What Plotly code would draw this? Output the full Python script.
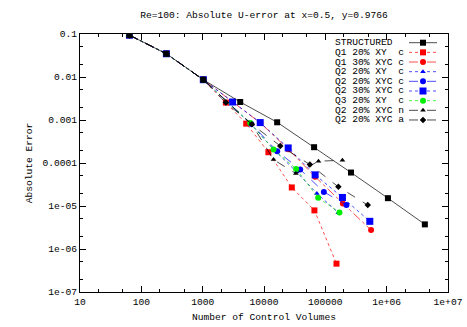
import plotly.graph_objects as go

# ---------------- data ----------------
N_COARSE = [64, 256, 1024]
E_COARSE = [0.094, 0.0347, 0.00865]

N_STRUCT = [64, 256, 1024, 4096, 16384, 65536, 262144, 1048576, 4194304]
E_STRUCT = [0.094, 0.0347, 0.00865, 0.00262, 0.000885, 0.000233, 6.0e-5, 1.52e-5, 3.74e-6]

N_Q1_20_XY = N_COARSE + [2390, 5130, 11800, 28400, 66400, 152000]
E_Q1_20_XY = E_COARSE + [0.00254, 0.000824, 0.000178, 2.7e-5, 7.9e-6, 4.56e-7]

N_Q1_30_XYC = N_COARSE + [8700, 24800, 68000, 193000, 557000]
E_Q1_30_XYC = E_COARSE + [0.00086, 0.00021, 4.8e-5, 1.15e-5, 2.76e-6]

N_Q2_20_XY = N_COARSE + [6000, 15000, 34000, 72800, 163000]
E_Q2_20_XY = E_COARSE + [0.00083, 0.000195, 6.2e-5, 1.96e-5, 6.95e-6]

N_Q2_20_XYC = N_COARSE + [6200, 16400, 38900, 94600, 221000]
E_Q2_20_XYC = E_COARSE + [0.00081, 0.000188, 7.06e-5, 2.13e-5, 1.05e-5]

N_Q2_30_XYC = N_COARSE + [3070, 8670, 24800, 68200, 190000, 531000]
E_Q2_30_XYC = E_COARSE + [0.00262, 0.00087, 0.000224, 5.3e-5, 1.58e-5, 4.4e-6]

N_Q3_20_XY = N_COARSE + [5960, 14300, 33400, 76400, 170000]
E_Q3_20_XY = E_COARSE + [0.000851, 0.000206, 7.3e-5, 1.55e-5, 7.1e-6]

N_Q2_20_XYC_N = N_COARSE + [6350, 14300, 33100, 77300, 190000]
E_Q2_20_XYC_N = E_COARSE + [0.000794, 0.00012, 5.7e-5, 0.00011, 0.000116]

N_Q2_20_XYC_A = N_COARSE + [2390, 6350, 18400, 56000, 163000, 492000]
E_Q2_20_XYC_A = E_COARSE + [0.00254, 0.000794, 0.00025, 9.2e-5, 2.79e-5, 1.05e-5]

X_TICKVALS = [10, 100, 1000, 10000, 100000, 1e6, 1e7]
X_TICKTEXT = ["10", "100", "1000", "10000", "100000", "1e+06", "1e+07"]
Y_TICKVALS = [1e-7, 1e-6, 1e-5, 1e-4, 1e-3, 1e-2, 1e-1]
Y_TICKTEXT = ["1e-07", "1e-06", "1e-05", "0.0001", "0.001", "0.01", "0.1"]

# ---------------- styles ----------------
FONT = "Liberation Mono"
FS = 9.6
W, H = 467, 327
L, R, T, B = 80, 448, 34, 292  # plot area in pixels

series = [
    # label, x, y, color, dash, symbol, size
    ("Q1 20% XY  c", N_Q1_20_XY, E_Q1_20_XY, "#ff0000", "dot", "square", 6),
    ("Q1 30% XYC c", N_Q1_30_XYC, E_Q1_30_XYC, "#ff0000", "dashdot", "circle", 6),
    ("Q2 20% XY  c", N_Q2_20_XY, E_Q2_20_XY, "#0000ff", "dot", "triangle-up", 5),
    ("Q2 20% XYC c", N_Q2_20_XYC, E_Q2_20_XYC, "#0000ff", "dash", "circle", 6),
    ("Q2 30% XYC c", N_Q2_30_XYC, E_Q2_30_XYC, "#0000ff", "dot", "square", 7),
    ("Q3 20% XY  c", N_Q3_20_XY, E_Q3_20_XY, "#00ee00", "dot", "circle", 6),
    ("Q2 20% XYC n", N_Q2_20_XYC_N, E_Q2_20_XYC_N, "#000000", "dash", "triangle-up", 5),
    ("Q2 20% XYC a", N_Q2_20_XYC_A, E_Q2_20_XYC_A, "#000000", "dash", "diamond", 5),
]
struct = ("STRUCTURED", N_STRUCT, E_STRUCT, "#000000", "solid", "square", 6)
all_series = [struct] + series

fig = go.Figure()
for lab, xs, ys, col, dash, sym, sz in series + [struct]:
    fig.add_trace(go.Scatter(
        x=xs, y=ys, mode="lines+markers", name=lab, showlegend=False,
        line=dict(color=col, dash=dash, width=0.7),
        marker=dict(symbol=sym, size=sz, color=col, line=dict(width=0)),
        xaxis="x", yaxis="y"))

# manual legend (text left, sample right) drawn in overlay axes
row0, drow = 42.7, 9.66
tx, sx0, sx1 = 334, 409, 437


def px2fx(px):
    return (px - L) / (R - L)


def py2fy(py):
    return 1 - (py - T) / (B - T)


annotations = []
for i, (lab, xs, ys, col, dash, sym, sz) in enumerate(all_series):
    yy = py2fy(row0 + i * drow)
    annotations.append(dict(x=px2fx(tx), y=yy, xref="paper", yref="paper",
                            text=lab.replace(" ", "&nbsp;"), showarrow=False,
                            xanchor="left", yanchor="middle", height=9, borderpad=0,
                            font=dict(family=FONT, size=FS, color="black")))
    fig.add_trace(go.Scatter(
        x=[px2fx(sx0), px2fx(sx1)], y=[yy, yy], mode="lines",
        line=dict(color=col, dash=dash, width=0.7), showlegend=False,
        hoverinfo="skip", xaxis="x2", yaxis="y2"))
    fig.add_trace(go.Scatter(
        x=[px2fx((sx0 + sx1) / 2)], y=[yy], mode="markers",
        marker=dict(symbol=sym, size=sz, color=col), showlegend=False,
        hoverinfo="skip", xaxis="x2", yaxis="y2"))

axis_common = dict(type="log", showline=True, linecolor="black", linewidth=1,
                   mirror="allticks", ticks="inside", ticklen=6, tickcolor="black",
                   showgrid=False, zeroline=False, automargin=False,
                   tickfont=dict(family=FONT, size=FS, color="black"),
                   minor=dict(ticks="inside", ticklen=3, tickcolor="black",
                              dtick="D2", showgrid=False))

fig.update_layout(
    width=W, height=H,
    margin=dict(l=L, r=W - R, t=T, b=H - B, autoexpand=False),
    paper_bgcolor="white", plot_bgcolor="white",
    showlegend=False,
    font=dict(family=FONT, size=FS, color="black"),
    title=dict(text="Re=100: Absolute U-error at x=0.5, y=0.9766",
               x=264 / W, xanchor="center", xref="container",
               y=1 - 15 / H, yref="container", yanchor="middle",
               font=dict(family=FONT, size=FS, color="black")),
    xaxis=dict(**axis_common, range=[1, 7], tickvals=X_TICKVALS, ticktext=X_TICKTEXT,
               title=dict(text="Number of Control Volumes", standoff=6,
                          font=dict(family=FONT, size=FS, color="black"))),
    yaxis=dict(**axis_common, range=[-7, -1], tickvals=Y_TICKVALS, ticktext=Y_TICKTEXT,
               title=dict(text="Absolute Error", standoff=8,
                          font=dict(family=FONT, size=FS, color="black"))),
    xaxis2=dict(overlaying="x", range=[0, 1], visible=False),
    yaxis2=dict(overlaying="y", range=[0, 1], visible=False),
    annotations=annotations,
)

fig.write_html("out.html", config={"displayModeBar": False, "staticPlot": True},
               post_script="document.body.style.margin='0';document.body.style.overflow='hidden';")
